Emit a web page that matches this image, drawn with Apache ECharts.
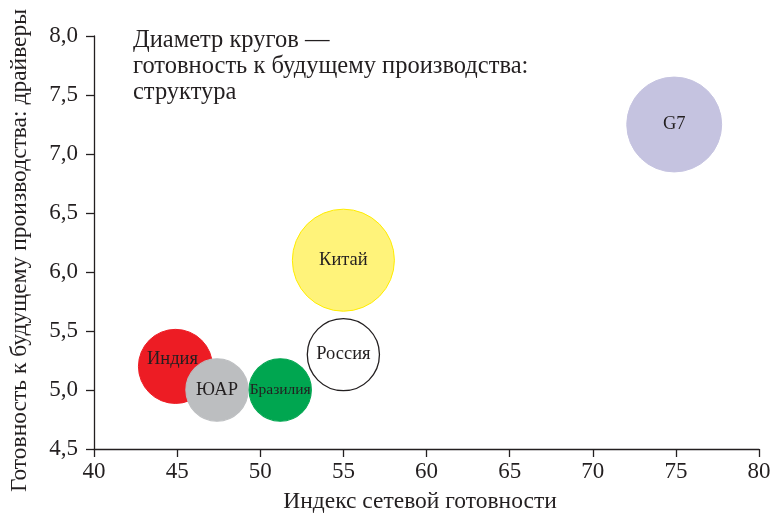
<!DOCTYPE html>
<html>
<head>
<meta charset="utf-8">
<script src="https://cdn.jsdelivr.net/npm/echarts@6/dist/echarts.min.js"></script>
<style>
  html, body { margin: 0; padding: 0; background: #fff; }
  #chart { width: 775px; height: 519px; }
</style>
</head>
<body>
<div id="chart"></div>
<script>
// data
var countries = ['Индия', 'ЮАР', 'Бразилия', 'Россия', 'Китай', 'G7']
var networkIndex = [44.9, 47.4, 51.2, 55.0, 55.0, 74.9]
var driversScore = [5.2, 5.0, 5.0, 5.3, 6.1, 7.25]
var structureScore = [5.7, 4.8, 4.8, 5.55, 7.85, 7.3]
var colors = ['#ed1c24', '#bcbec0', '#00a650', '#ffffff', '#fff37a', '#c5c3e0']
var borders = ['#ed1c24', '#bcbec0', '#00a650', '#231f20', '#ffec00', '#c5c3e0']

var xRange = [40, 80, 5]
var yRange = [4.5, 8.0, 0.5]

var font = '"Liberation Serif", "Times New Roman", serif'
var ink = '#231f20'

var chart = echarts.init(document.getElementById('chart'))

var points = countries.map(function (name, i) {
  var lab = { fontSize: name === 'Бразилия' ? 15.5 : 18.5 }
  if (name === 'Индия') lab.offset = [-3, -7]
  return {
    name: name,
    value: [networkIndex[i], driversScore[i], structureScore[i]],
    itemStyle: {
      color: colors[i],
      borderColor: borders[i],
      borderWidth: i === 3 ? 1.3 : 1
    },
    label: lab
  }
})

chart.setOption({
  animation: false,
  title: {
    text: 'Диаметр кругов —\nготовность к будущему производства:\nструктура',
    left: 128,
    top: 23,
    textStyle: {
      fontFamily: font,
      fontWeight: 'normal',
      fontSize: 24.5,
      lineHeight: 26,
      color: ink
    }
  },
  grid: {
    left: 93,
    right: 16,
    top: 36,
    bottom: 67
  },
  xAxis: {
    type: 'value',
    min: xRange[0],
    max: xRange[1],
    interval: xRange[2],
    name: 'Индекс сетевой готовности',
    nameLocation: 'middle',
    nameGap: 41,
    nameTextStyle: { fontFamily: font, fontSize: 23.5, color: ink, padding: [0, 13, 0, 0] },
    axisLine: { show: true, lineStyle: { color: ink, width: 1.3 } },
    axisTick: { show: true, length: 8, lineStyle: { color: ink, width: 1.3 } },
    axisLabel: { fontFamily: font, fontSize: 23, color: ink, margin: 11 },
    splitLine: { show: false }
  },
  yAxis: {
    type: 'value',
    min: yRange[0],
    max: yRange[1],
    interval: yRange[2],
    name: 'Готовность к будущему производства: драйверы',
    nameLocation: 'middle',
    nameGap: 62,
    nameTextStyle: { fontFamily: font, fontSize: 23.5, color: ink, padding: [0, 16, 0, 0] },
    axisLine: { show: true, lineStyle: { color: ink, width: 1.3 } },
    axisTick: { show: true, length: 8, lineStyle: { color: ink, width: 1.3 } },
    axisLabel: {
      fontFamily: font,
      fontSize: 23,
      color: ink,
      margin: 16,
      formatter: function (v) { return v.toFixed(1).replace('.', ',') }
    },
    splitLine: { show: false }
  },
  series: [{
    type: 'scatter',
    data: points,
    symbolSize: function (v) { return v[2] * 13 },
    itemStyle: { opacity: 1 },
    label: {
      show: true,
      position: 'inside',
      formatter: '{b}',
      fontFamily: font,
      color: ink
    },
    emphasis: { disabled: true }
  }]
})
</script>
</body>
</html>
